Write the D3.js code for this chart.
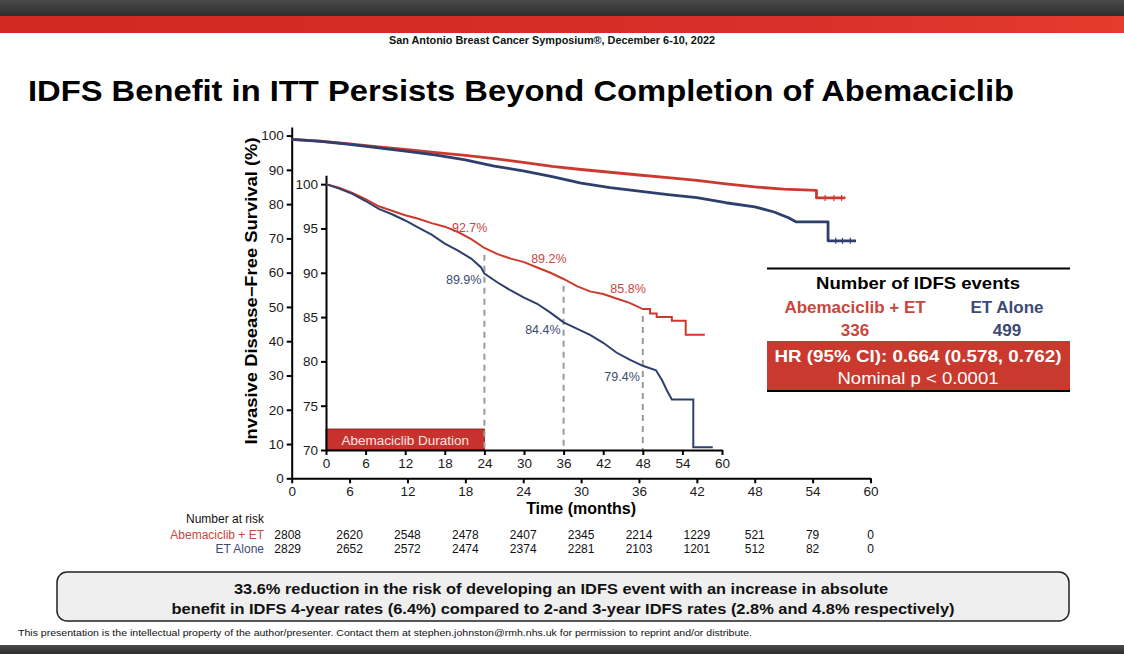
<!DOCTYPE html>
<html>
<head>
<meta charset="utf-8">
<script src="https://cdn.jsdelivr.net/npm/d3@7"></script>
<style>
  html, body { margin: 0; padding: 0; background: #fff; }
  svg { display: block; font-family: "Liberation Sans", Arial, Helvetica, sans-serif; }
</style>
</head>
<body>
<svg id="chart" width="1124" height="654"></svg>
<script>
// ---------------- DATA ----------------
const xTicks = [0, 6, 12, 18, 24, 30, 36, 42, 48, 54, 60];
const mainYTicks = [0, 10, 20, 30, 40, 50, 60, 70, 80, 90, 100];
const insetYTicks = [70, 75, 80, 85, 90, 95, 100];

// Main plot KM curves [month, IDFS %]
const mainAbema = [[0,98.9],[3,98.4],[6,97.6],[9,96.7],[12,95.9],[15,95.0],[18,94.2],[21,93.3],[24,92.2],[27,91.0],[30,90.1],[33,89.3],[36,88.5],[39,87.7],[42,86.9],[45,85.9],[48,85.0],[51,84.4],[54.4,84.0],[54.4,81.8],[57.4,81.8]];
const mainET = [[0,98.9],[3,98.3],[6,97.4],[9,96.4],[12,95.4],[15,94.3],[18,92.9],[21,91.1],[24,89.7],[27,88.0],[30,86.1],[33,84.8],[36,83.8],[39,82.8],[42,81.9],[45,80.4],[48,79.2],[50,77.7],[51.5,76.0],[52.3,74.8],[55.6,74.8],[55.6,69.3],[58.5,69.3]];
const censorAbema = [[55.3,81.8],[56.2,81.8],[57.0,81.8]];
const censorET = [[56.4,69.3],[57.1,69.3],[57.9,69.3]];

// Inset KM curves [month, IDFS %]
const insetAbema = [[0,100],[2,99.6],[4,99.0],[6,98.3],[8,97.5],[10,97.0],[12,96.5],[14,96.1],[16,95.6],[18,95.2],[20,94.6],[22,93.8],[24,92.8],[26,92.1],[28,91.6],[30,91.2],[32,90.6],[34,90.0],[36,89.3],[38,88.5],[40,87.9],[42,87.6],[44,87.1],[46,86.6],[48,85.9],[49.1,85.9],[49.1,85.4],[50.1,85.4],[50.1,85.0],[52.4,85.0],[52.4,84.6],[54.5,84.6],[54.5,83.0],[57.4,83.0]];
const insetET = [[0,100],[2,99.5],[4,98.9],[6,98.1],[8,97.2],[10,96.6],[12,95.9],[14,95.1],[16,94.3],[18,93.3],[20,92.5],[22,91.6],[23.5,90.6],[24,89.9],[26,88.9],[28,88.0],[30,87.2],[32,86.5],[34,85.5],[36,84.4],[38,83.7],[40,83.0],[42,82.1],[44,81.0],[46,80.2],[48,79.5],[50,79.0],[50.9,77.9],[51.6,76.8],[52.4,75.7],[55.65,75.7],[55.65,70.3],[58.6,70.3]];

// Landmark rates
const landmarkMonths = [24, 36, 48];
const abemaRates = [92.7, 89.2, 85.8];
const etRates = [89.9, 84.4, 79.4];

// Number at risk
const riskLabels = ["Abemaciclib + ET", "ET Alone"];
const riskAbema = [2808, 2620, 2548, 2478, 2407, 2345, 2214, 1229, 521, 79, 0];
const riskET = [2829, 2652, 2572, 2474, 2374, 2281, 2103, 1201, 512, 82, 0];

// Event box
const eventCounts = [336, 499];

// ---------------- STYLE ----------------
const RED = "#cc3a2f";
const BLUE = "#2f3f6c";
const RED_TXT = "#c9463c";
const BLUE_TXT = "#3c4a74";

const svg = d3.select("#chart");

// Header
const defs = svg.append("defs");
const gr = defs.append("linearGradient").attr("id", "redband").attr("x1", 0).attr("x2", 1);
gr.append("stop").attr("offset", 0).attr("stop-color", "#d0291f");
gr.append("stop").attr("offset", 0.7).attr("stop-color", "#d8302a");
gr.append("stop").attr("offset", 1).attr("stop-color", "#e53b2e");
const gg = defs.append("linearGradient").attr("id", "grayband").attr("x1", 0).attr("x2", 0).attr("y1", 0).attr("y2", 1);
gg.append("stop").attr("offset", 0).attr("stop-color", "#4a4a4a");
gg.append("stop").attr("offset", 1).attr("stop-color", "#2e2e2e");

svg.append("rect").attr("x", 0).attr("y", 0).attr("width", 1124).attr("height", 16).attr("fill", "url(#grayband)");
svg.append("rect").attr("x", 0).attr("y", 16).attr("width", 1124).attr("height", 17).attr("fill", "url(#redband)");
svg.append("text").attr("x", 552).attr("y", 44).attr("text-anchor", "middle")
  .attr("font-size", 10).attr("font-weight", "bold").attr("fill", "#111")
  .attr("textLength", 326).attr("lengthAdjust", "spacingAndGlyphs")
  .text("San Antonio Breast Cancer Symposium®, December 6-10, 2022");

// Title
svg.append("text").attr("x", 28).attr("y", 101)
  .attr("font-size", 30).attr("font-weight", "bold").attr("fill", "#000")
  .attr("textLength", 986).attr("lengthAdjust", "spacingAndGlyphs")
  .text("IDFS Benefit in ITT Persists Beyond Completion of Abemaciclib");

// ---------------- MAIN PLOT ----------------
const xMain = d3.scaleLinear().domain([0, 60]).range([291.7, 870.5]);
const yMain = d3.scaleLinear().domain([0, 102.5]).range([478.3, 127]);

const gMainX = svg.append("g").attr("transform", `translate(0,${yMain(0)})`)
  .call(d3.axisBottom(xMain).tickValues(xTicks).tickSize(5).tickSizeOuter(0));
const gMainY = svg.append("g").attr("transform", `translate(${xMain(0)},0)`)
  .call(d3.axisLeft(yMain).tickValues(mainYTicks).tickSize(5).tickSizeOuter(0));
[gMainX, gMainY].forEach(g => {
  g.select(".domain").attr("stroke", "#000").attr("stroke-width", 2);
  g.selectAll(".tick line").attr("stroke", "#000").attr("stroke-width", 2);
  g.selectAll(".tick text").attr("font-size", 13.5).attr("fill", "#1a1a1a")
    .attr("font-family", "Liberation Sans, Arial, sans-serif");
});

const lineMain = d3.line().x(d => xMain(d[0])).y(d => yMain(d[1]));
svg.append("path").datum(mainAbema).attr("d", lineMain).attr("fill", "none")
  .attr("stroke", RED).attr("stroke-width", 2.8).attr("stroke-linejoin", "round");
svg.append("path").datum(mainET).attr("d", lineMain).attr("fill", "none")
  .attr("stroke", BLUE).attr("stroke-width", 2.8).attr("stroke-linejoin", "round");
svg.selectAll(".cA").data(censorAbema).join("line")
  .attr("x1", d => xMain(d[0])).attr("x2", d => xMain(d[0]))
  .attr("y1", d => yMain(d[1]) - 3).attr("y2", d => yMain(d[1]) + 3)
  .attr("stroke", RED).attr("stroke-width", 1.2);
svg.selectAll(".cE").data(censorET).join("line")
  .attr("x1", d => xMain(d[0])).attr("x2", d => xMain(d[0]))
  .attr("y1", d => yMain(d[1]) - 3).attr("y2", d => yMain(d[1]) + 3)
  .attr("stroke", BLUE).attr("stroke-width", 1.2);

// Axis titles
svg.append("text").attr("transform", "translate(257,291) rotate(-90)")
  .attr("text-anchor", "middle").attr("font-size", 16).attr("font-weight", "bold")
  .attr("textLength", 307).attr("lengthAdjust", "spacingAndGlyphs")
  .text("Invasive Disease\u2212Free Survival (%)");
svg.append("text").attr("x", xMain(30)).attr("y", 514)
  .attr("text-anchor", "middle").attr("font-size", 16).attr("font-weight", "bold")
  .text("Time (months)");

// ---------------- INSET ----------------
const xIn = d3.scaleLinear().domain([0, 60]).range([326, 722]);
const yIn = d3.scaleLinear().domain([70, 101]).range([450, 175.3]);

// Abemaciclib duration bar
svg.append("rect").attr("x", xIn(0)).attr("y", yIn(70) - 21)
  .attr("width", xIn(24) - xIn(0)).attr("height", 21)
  .attr("fill", "#c8322e").attr("stroke", "#7a1c18").attr("stroke-width", 0.8);
svg.append("text").attr("x", (xIn(0) + xIn(24)) / 2).attr("y", yIn(70) - 5.5)
  .attr("text-anchor", "middle").attr("font-size", 13.5).attr("fill", "#fbe6e3")
  .text("Abemaciclib Duration");

// Dashed landmark lines
svg.selectAll(".lm").data(landmarkMonths).join("line")
  .attr("x1", d => xIn(d)).attr("x2", d => xIn(d))
  .attr("y1", (d, i) => yIn(abemaRates[i]) + 6).attr("y2", yIn(70))
  .attr("stroke", "#9a9a9a").attr("stroke-width", 2).attr("stroke-dasharray", "6,5");

const gInX = svg.append("g").attr("transform", `translate(0,${yIn(70)})`)
  .call(d3.axisBottom(xIn).tickValues(xTicks).tickSize(5).tickSizeOuter(0));
const gInY = svg.append("g").attr("transform", `translate(${xIn(0)},0)`)
  .call(d3.axisLeft(yIn).tickValues(insetYTicks).tickSize(5).tickSizeOuter(0));
[gInX, gInY].forEach(g => {
  g.select(".domain").attr("stroke", "#000").attr("stroke-width", 2);
  g.selectAll(".tick line").attr("stroke", "#000").attr("stroke-width", 2);
  g.selectAll(".tick text").attr("font-size", 13.5).attr("fill", "#1a1a1a")
    .attr("font-family", "Liberation Sans, Arial, sans-serif");
});

const lineIn = d3.line().x(d => xIn(d[0])).y(d => yIn(d[1]));
svg.append("path").datum(insetAbema).attr("d", lineIn).attr("fill", "none")
  .attr("stroke", RED).attr("stroke-width", 2);
svg.append("path").datum(insetET).attr("d", lineIn).attr("fill", "none")
  .attr("stroke", BLUE).attr("stroke-width", 2);

// Landmark labels
svg.selectAll(".la").data(landmarkMonths).join("text")
  .attr("x", d => xIn(d) + 3).attr("y", (d, i) => yIn(abemaRates[i]) - 17)
  .attr("text-anchor", "end").attr("font-size", 12.5).attr("fill", RED_TXT)
  .text((d, i) => abemaRates[i].toFixed(1) + "%");
svg.selectAll(".le").data(landmarkMonths).join("text")
  .attr("x", d => xIn(d) - 3).attr("y", (d, i) => yIn(etRates[i]) + 10 + i * 2)
  .attr("text-anchor", "end").attr("font-size", 12.5).attr("fill", BLUE_TXT)
  .text((d, i) => etRates[i].toFixed(1) + "%");

// ---------------- NUMBER AT RISK ----------------
svg.append("text").attr("x", 264).attr("y", 523).attr("text-anchor", "end")
  .attr("font-size", 12).attr("fill", "#111").text("Number at risk");
const riskRows = [riskAbema, riskET];
const riskColors = [RED_TXT, BLUE_TXT];
const riskY = [539, 553];
riskRows.forEach((row, r) => {
  svg.append("text").attr("x", 264).attr("y", riskY[r]).attr("text-anchor", "end")
    .attr("font-size", 12).attr("fill", riskColors[r]).text(riskLabels[r]);
  svg.selectAll(".risk" + r).data(row).join("text")
    .attr("x", (d, i) => xMain(xTicks[i]) + (i === 0 ? -4 : 0)).attr("y", riskY[r])
    .attr("text-anchor", "middle").attr("font-size", 12).attr("fill", "#111")
    .text(d => d);
});

// ---------------- EVENTS BOX ----------------
const bx0 = 767, bx1 = 1070, bcx = 918;
svg.append("line").attr("x1", bx0).attr("x2", bx1).attr("y1", 268.5).attr("y2", 268.5)
  .attr("stroke", "#000").attr("stroke-width", 2);
svg.append("text").attr("x", bcx).attr("y", 289).attr("text-anchor", "middle")
  .attr("font-size", 17).attr("font-weight", "bold").attr("fill", "#000")
  .attr("textLength", 204).attr("lengthAdjust", "spacingAndGlyphs")
  .text("Number of IDFS events");
svg.append("text").attr("x", 855).attr("y", 313).attr("text-anchor", "middle")
  .attr("font-size", 17).attr("font-weight", "bold").attr("fill", RED_TXT)
  .text("Abemaciclib + ET");
svg.append("text").attr("x", 1007).attr("y", 313).attr("text-anchor", "middle")
  .attr("font-size", 17).attr("font-weight", "bold").attr("fill", BLUE_TXT)
  .text("ET Alone");
svg.append("text").attr("x", 855).attr("y", 336).attr("text-anchor", "middle")
  .attr("font-size", 17).attr("font-weight", "bold").attr("fill", RED_TXT)
  .text(eventCounts[0]);
svg.append("text").attr("x", 1007).attr("y", 336).attr("text-anchor", "middle")
  .attr("font-size", 17).attr("font-weight", "bold").attr("fill", BLUE_TXT)
  .text(eventCounts[1]);
svg.append("rect").attr("x", bx0).attr("y", 341).attr("width", bx1 - bx0).attr("height", 49)
  .attr("fill", "#c9392d");
svg.append("line").attr("x1", bx0).attr("x2", bx1).attr("y1", 391).attr("y2", 391)
  .attr("stroke", "#000").attr("stroke-width", 2);
svg.append("text").attr("x", bcx).attr("y", 362).attr("text-anchor", "middle")
  .attr("font-size", 17).attr("font-weight", "bold").attr("fill", "#fff")
  .attr("textLength", 287).attr("lengthAdjust", "spacingAndGlyphs")
  .text("HR (95% CI): 0.664 (0.578, 0.762)");
svg.append("text").attr("x", bcx).attr("y", 384).attr("text-anchor", "middle")
  .attr("font-size", 17).attr("fill", "#fff")
  .attr("textLength", 161).attr("lengthAdjust", "spacingAndGlyphs")
  .text("Nominal p < 0.0001");

// ---------------- BOTTOM BOX ----------------
svg.append("rect").attr("x", 57).attr("y", 572).attr("width", 1012).attr("height", 49)
  .attr("rx", 10).attr("ry", 10).attr("fill", "#efefef").attr("stroke", "#222").attr("stroke-width", 1.5);
svg.append("text").attr("x", 561).attr("y", 594).attr("text-anchor", "middle")
  .attr("font-size", 15.5).attr("font-weight", "bold").attr("fill", "#111")
  .attr("textLength", 654).attr("lengthAdjust", "spacingAndGlyphs")
  .text("33.6% reduction in the risk of developing an IDFS event with an increase in absolute");
svg.append("text").attr("x", 563).attr("y", 614).attr("text-anchor", "middle")
  .attr("font-size", 15.5).attr("font-weight", "bold").attr("fill", "#111")
  .attr("textLength", 783).attr("lengthAdjust", "spacingAndGlyphs")
  .text("benefit in IDFS 4-year rates (6.4%) compared to 2-and 3-year IDFS rates (2.8% and 4.8% respectively)");

svg.append("text").attr("x", 18).attr("y", 636)
  .attr("font-size", 9.5).attr("fill", "#111")
  .attr("textLength", 734).attr("lengthAdjust", "spacingAndGlyphs")
  .text("This presentation is the intellectual property of the author/presenter. Contact them at stephen.johnston@rmh.nhs.uk for permission to reprint and/or distribute.");

svg.append("rect").attr("x", 0).attr("y", 645).attr("width", 1124).attr("height", 9).attr("fill", "url(#grayband)");
</script>
</body>
</html>
